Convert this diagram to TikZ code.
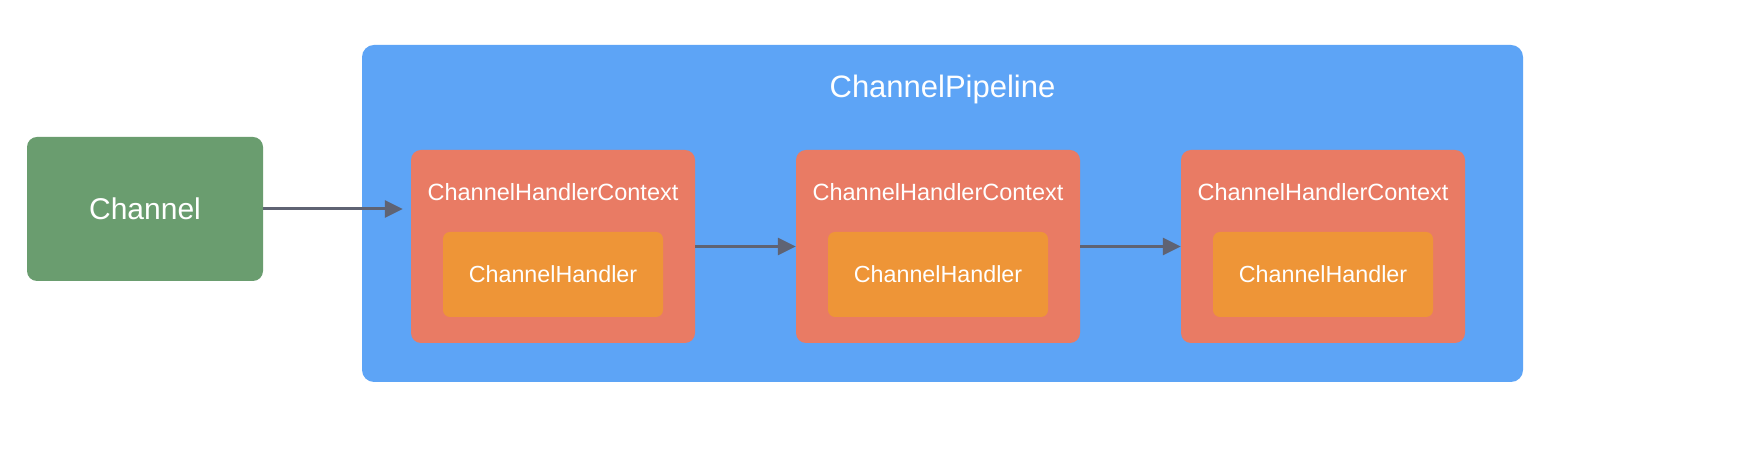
\documentclass[tikz,border=0pt]{standalone}
\usepackage{fontspec}
\setmainfont{Liberation Sans}
\usetikzlibrary{arrows.meta}
\definecolor{cgreen}{HTML}{6A9D6F}
\definecolor{cblue}{HTML}{5DA4F6}
\definecolor{cred}{HTML}{E97B64}
\definecolor{corange}{HTML}{EE9537}
\definecolor{carrow}{HTML}{5F6373}
\tikzset{
  box/.style={rounded corners=10pt, inner sep=0pt, text=white},
  chanbox/.style={box, fill=cgreen, minimum width=236pt, minimum height=144pt, font=\fontsize{30}{36}\selectfont},
  pipebox/.style={box, fill=cblue, rounded corners=12pt, minimum width=1161pt, minimum height=337pt},
  ctxbox/.style={box, fill=cred, minimum width=284pt, minimum height=193pt},
  handbox/.style={box, fill=corange, rounded corners=7pt, minimum width=220pt, minimum height=85pt, font=\fontsize{23.3}{28}\selectfont},
  lbl/.style={text=white, inner sep=0pt},
  conn/.style={draw=carrow, line width=3pt, -{Triangle[length=18pt,width=17pt]}}
}
\begin{document}
\begin{tikzpicture}[x=1pt,y=1pt]
\fill[white] (0,0) rectangle (1750,462);
\useasboundingbox (0,0) rectangle (1750,462);
\node[pipebox] (pipe) at (942.5,248.5) {};
\node[lbl, font=\fontsize{31}{37}\selectfont] (pipet) at (942.5,373) {ChannelPipeline};
\node[chanbox] (ch) at (145,253) {Channel};
\foreach \i/\x in {1/553,2/938,3/1323}{
  \node[ctxbox] (ctx\i) at (\x,215.5) {};
  \node[lbl, font=\fontsize{23.5}{28}\selectfont] (ctxt\i) at (\x,270) {ChannelHandlerContext};
  \node[handbox] (h\i) at (\x,187.5) {ChannelHandler};
}
\draw[conn, shorten >=8pt] (ch.east) -- (ch.east -| ctx1.west);
\draw[conn] (ctx1.east) -- (ctx2.west);
\draw[conn] (ctx2.east) -- (ctx3.west);
\end{tikzpicture}
\end{document}
